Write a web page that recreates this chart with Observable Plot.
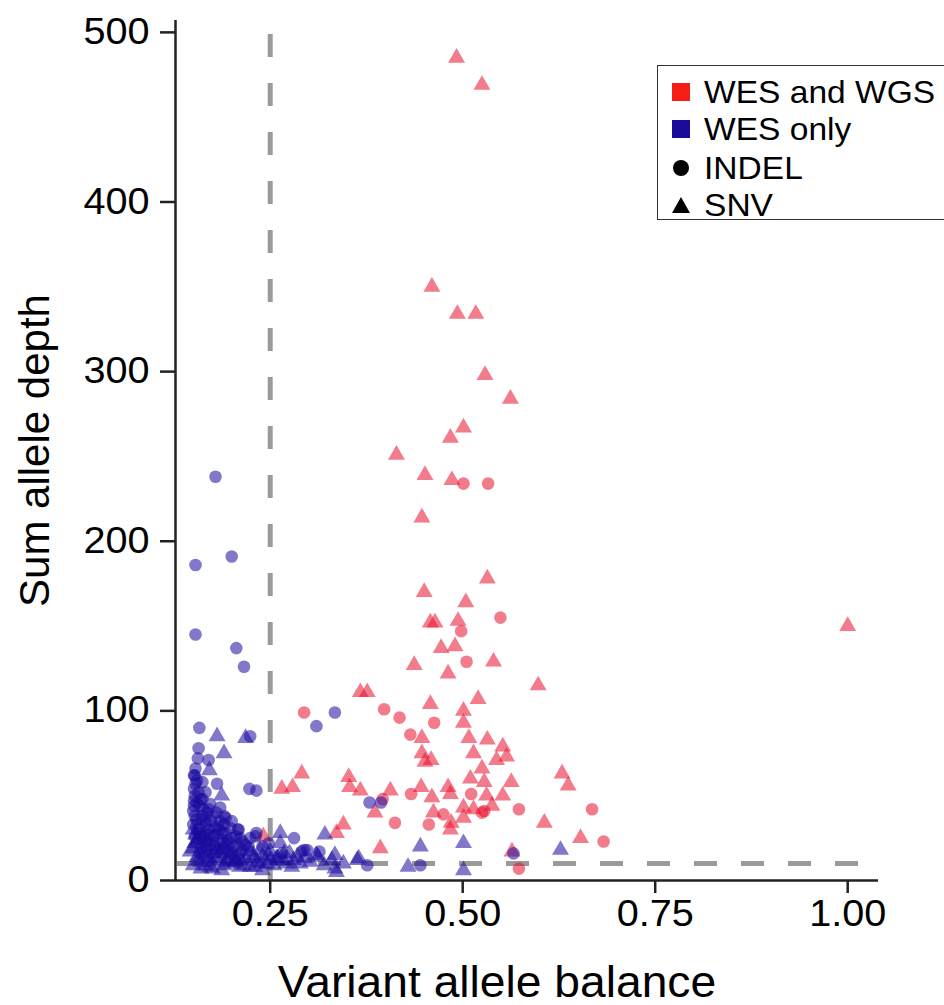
<!DOCTYPE html>
<html>
<head>
<meta charset="utf-8">
<script src="https://cdn.jsdelivr.net/npm/d3@7"></script>
<script src="https://cdn.jsdelivr.net/npm/@observablehq/plot@0.6"></script>
<style>
  html, body { margin: 0; padding: 0; background: #fff; overflow: hidden; }
  #wrap { position: relative; width: 944px; height: 1005px; }
  #legend { position: absolute; left: 657px; top: 65px; width: 330px; height: 155px;
    border: 1.5px solid #333; background: #fff; box-sizing: border-box;
    font-family: "Liberation Sans", Arial, sans-serif; }
  .row { position: absolute; left: 14px; height: 36px; display: flex; align-items: center; }
  .lab { font-size: 30.5px; color: #000; transform: scaleX(1.1); transform-origin: left center; white-space: nowrap; }
</style>
</head>
<body>
<div id="wrap"><div id="legend"></div></div>
<script>
// ---- data ----
const groups = ["WES and WGS", "WES only"];
const groupColors = ["#E8102E", "#1A0A9E"];
const legendColors = ["#F51E14", "#1A0A9A"];
const types = ["INDEL", "SNV"];
const typeSymbols = ["circle", "triangle"];
const xTicks = [0.25, 0.5, 0.75, 1.0];
const yTicks = [0, 100, 200, 300, 400, 500];
const xDomain = [0.127, 1.04];
const yDomain = [0, 507];
const vabCutoff = [0.25];
const depthCutoff = [10];
const xTitle = "Variant allele balance";
const yTitle = "Sum allele depth";

// WES and WGS, SNV
const bothSnvX = [0.492,0.525,0.460,0.493,0.517,0.529,0.562,0.501,0.484,0.414,0.451,0.486,0.447,
  0.532,0.450,0.504,0.458,0.464,0.494,0.472,0.490,0.540,0.437,0.481,
  0.598,0.520,0.458,0.501,0.501,0.447,0.508,0.532,0.552,0.447,0.514,0.557,0.544,0.451,0.459,0.525,0.629,0.637,0.510,0.528,0.563,0.406,0.446,0.481,0.484,0.531,0.460,0.552,0.538,0.501,0.514,0.462,0.501,0.485,0.606,0.484,0.653,0.393,0.564,
  1.000,
  0.367,0.376,0.291,0.265,0.279,0.352,0.353,0.367,0.386,0.345,0.336,0.241];
const bothSnvY = [485,469,350,334,334,298,284,267,261,251,239,236,214,
  178,170,164,152,152,153,137,138,129,127,122,
  115,107,104,100,93,84,84,83,79,75,75,73,71,70,71,66,63,56,60,58,58,53,55,55,51,50,49,50,44,43,42,40,37,34,34,30,25,19,17,
  150,
  111,111,63,54,55,61,55,53,40,33,28,26];

// WES and WGS, INDEL
const bothIndelX = [0.501,0.533,0.549,0.498,0.505,0.398,0.418,0.463,0.432,0.433,0.511,0.573,0.668,0.525,0.528,0.475,0.412,0.456,0.683,0.573,0.294,0.396];
const bothIndelY = [234,234,155,147,129,101,96,93,86,51,51,42,42,40,41,39,34,33,23,7,99,48];

// WES only, INDEL
const wesIndelX = [0.179,0.200,0.153,0.153,0.206,0.216,
  0.334,0.310,0.379,0.394,0.566,0.445,
  0.158,0.224,0.157,0.170,0.153,0.155,0.181,0.223,0.232,0.151,0.166,0.155,0.172,0.150,0.163,0.185,0.192,0.190,0.185,0.166,0.150,0.209,0.198,0.157,0.179,0.211,0.194,0.231,0.224,0.232,0.208,0.218,0.155,0.172,0.202,0.281,0.298,0.314,0.376,0.265,0.291,0.294,
  0.152,0.160,0.168,0.175,0.160,0.170,0.182,0.188,0.160,0.168,0.178,0.190,0.200,0.152,0.158,0.165,0.176,0.152,0.185,0.195,0.205,0.215,0.160,0.170,0.152,0.156,0.162,0.151,0.240,0.248,
  0.151,0.153,0.157,0.151,0.158,0.162,0.154,0.166,0.173,0.178,0.184,0.171,0.163,0.186,0.192,0.198,0.206,0.214,0.222,0.176,0.168,0.158,0.188,0.210,0.155,0.162,0.170,0.180,0.190,0.200];
const wesIndelY = [238,191,186,145,137,126,
  99,91,46,46,16,9,
  90,85,78,71,66,59,57,54,53,54,52,46,45,41,42,43,37,38,35,35,33,30,31,28,27,25,24,26,25,28,30,21,22,21,20,25,18,17,9,16,17,18,
  50,48,40,38,36,30,32,28,25,23,20,22,25,38,31,28,26,26,18,17,14,18,19,15,62,72,58,44,20,22,
  62,57,52,47,44,38,36,33,35,31,30,27,26,24,28,22,26,23,20,23,18,16,19,16,30,48,42,40,33,35];

// WES only, SNV
const wesSnvX = [0.181,0.218,0.190,0.171,0.187,0.150,0.146,0.163,0.185,0.198,0.224,0.237,0.213,0.155,0.174,0.150,0.202,0.224,0.246,0.233,0.194,
  0.321,0.263,0.263,0.334,0.363,0.268,0.289,0.302,0.334,0.336,0.250,0.250,0.365,0.445,0.501,0.627,0.429,0.501,
  0.157,0.166,0.180,0.190,0.210,0.240,0.255,0.270,0.280,0.215,0.155,0.165,0.180,0.150,0.172,0.205,0.228,0.260,0.278,0.312,
  0.152,0.160,0.170,0.177,0.185,0.195,0.205,0.218,0.228,0.238,0.248,0.258,0.266,0.275,0.285,0.295,0.310,0.320,0.153,0.165,0.190,0.200,0.210,0.230,0.240,0.160,0.175,0.187,0.345,0.330];
const wesSnvY = [85,84,75,65,50,19,17,16,16,15,17,18,12,14,11,9,10,8,10,11,11,
  27,28,22,15,12,16,10,11,7,5,17,12,13,20,22,18,8,6,
  12,9,13,9,8,14,9,10,12,9,24,20,18,30,8,12,13,13,8,14,
  22,11,13,16,12,13,11,13,15,10,15,13,12,16,14,13,15,9,27,24,20,17,20,8,6,7,7,6,10,12];

function series(xs, ys, group, type) {
  return xs.map((x, i) => ({vab: x, depth: ys[i], group, type}));
}
const data = [
  ...series(bothSnvX, bothSnvY, groups[0], types[1]),
  ...series(bothIndelX, bothIndelY, groups[0], types[0]),
  ...series(wesIndelX, wesIndelY, groups[1], types[0]),
  ...series(wesSnvX, wesSnvY, groups[1], types[1])
];

const font = "'Liberation Sans', Arial, Helvetica, sans-serif";
const chart = Plot.plot({
  width: 944,
  height: 1005,
  marginLeft: 175,
  marginRight: 66,
  marginTop: 20,
  marginBottom: 125,
  style: {fontFamily: font, background: "#fff", color: "#000"},
  x: {domain: xDomain, label: null},
  y: {domain: yDomain, label: null},
  color: {domain: groups, range: groupColors},
  symbol: {domain: types, range: typeSymbols},
  marks: [
    Plot.ruleX(vabCutoff, {stroke: "#9a9a9a", strokeWidth: 5, strokeDasharray: "23,26", strokeDashoffset: 35}),
    Plot.ruleY(depthCutoff, {stroke: "#9a9a9a", strokeWidth: 5, strokeDasharray: "23,24", strokeDashoffset: -2}),
    Plot.dot(data, {x: "vab", y: "depth", fill: "group", symbol: "type", r: 6.3, fillOpacity: 0.55, stroke: "none"}),
    Plot.axisX({ticks: xTicks, tickFormat: d3.format(".2f"), tickSize: 13, tickPadding: 7, fontSize: 36, strokeWidth: 2.5, stroke: "#222", label: null, className: "tk"}),
    Plot.axisY({ticks: yTicks, tickSize: 15, tickPadding: 11, fontSize: 36, strokeWidth: 2.5, stroke: "#222", label: null, className: "tk"}),
    Plot.ruleY([yDomain[0]], {stroke: "#222", strokeWidth: 2.5}),
    Plot.ruleX([xDomain[0]], {stroke: "#222", strokeWidth: 2.5}),
    Plot.text([xTitle], {frameAnchor: "bottom", textAnchor: "middle", lineAnchor: "middle", dx: -30, dy: 102, fontSize: 44, fill: "#000", className: "xt"}),
    Plot.text([yTitle], {frameAnchor: "left", textAnchor: "middle", lineAnchor: "middle", rotate: -90, dx: -140, fontSize: 42, fill: "#000", className: "yt"})
  ]
});
const wrap = document.getElementById("wrap");
wrap.insertBefore(chart, wrap.firstChild);

// horizontally widened lettering, as in the reference
function stretch(sel, s) {
  chart.querySelectorAll(sel).forEach(t => {
    const len = t.getComputedTextLength();
    if (len > 0) {
      t.setAttribute("textLength", (len * s).toFixed(1));
      t.setAttribute("lengthAdjust", "spacingAndGlyphs");
    }
  });
}
stretch(".tk text", 1.1);
stretch(".xt text", 1.05);

// legend
const legend = document.getElementById("legend");
const items = [
  {label: groups[0], kind: "square", color: legendColors[0]},
  {label: groups[1], kind: "square", color: legendColors[1]},
  {label: types[0], kind: "circle", color: "#000"},
  {label: types[1], kind: "triangle", color: "#000"}
];
const rowCenters = [26, 63, 102, 139];
items.forEach((it, i) => {
  const row = document.createElement("div");
  row.className = "row";
  row.style.top = (rowCenters[i] - 18) + "px";
  const sw = document.createElementNS("http://www.w3.org/2000/svg", "svg");
  sw.setAttribute("width", 18); sw.setAttribute("height", 18);
  sw.style.marginRight = "14px";
  let shape;
  if (it.kind === "square") {
    shape = document.createElementNS("http://www.w3.org/2000/svg", "rect");
    shape.setAttribute("width", 18); shape.setAttribute("height", 18);
  } else if (it.kind === "circle") {
    shape = document.createElementNS("http://www.w3.org/2000/svg", "circle");
    shape.setAttribute("cx", 9); shape.setAttribute("cy", 9); shape.setAttribute("r", 8);
  } else {
    shape = document.createElementNS("http://www.w3.org/2000/svg", "path");
    shape.setAttribute("d", "M9,1 L18,17 L0,17 Z");
  }
  shape.setAttribute("fill", it.color);
  sw.appendChild(shape);
  const lab = document.createElement("span");
  lab.className = "lab";
  lab.textContent = it.label;
  row.appendChild(sw);
  row.appendChild(lab);
  legend.appendChild(row);
});
</script>
</body>
</html>
